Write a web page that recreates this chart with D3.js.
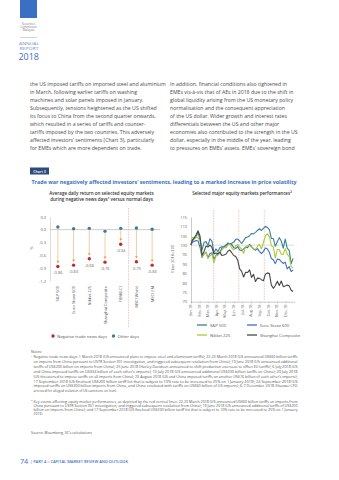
<!DOCTYPE html>
<html>
<head>
<meta charset="utf-8">
<script src="https://cdn.jsdelivr.net/npm/d3@7"></script>
<style>
  html, body { margin: 0; padding: 0; background: #fff; }
  svg { display: block; font-family: 'Open Sans', sans-serif; }
</style>
</head>
<body>
<div id="container"></div>
<script>
// left chart: average daily return (%)
const categories = ['S&P 500', 'Euro Stoxx 600', 'Nikkei 225', 'Shanghai Composite', 'FBMKLCI', 'MSCI World', 'MSCI EM'];
const negativeDays = [-0.86, -0.83, -0.68, -0.76, -0.34, -0.75, -0.83];
const otherDays = [0.06, 0.02, 0.03, -0.04, 0.03, 0.04, 0.01];
const returnTicks = [0.3, 0, -0.3, -0.6, -0.9, -1.2];

// right chart: weekly index levels, 1 Jan 2018 = 100
const weekDates = [
  '2018-01-01', '2018-01-05', '2018-01-12', '2018-01-19', '2018-01-26',
  '2018-02-02', '2018-02-09', '2018-02-16', '2018-02-23',
  '2018-03-02', '2018-03-09', '2018-03-16', '2018-03-23', '2018-03-30',
  '2018-04-06', '2018-04-13', '2018-04-20', '2018-04-27',
  '2018-05-04', '2018-05-11', '2018-05-18', '2018-05-25',
  '2018-06-01', '2018-06-08', '2018-06-15', '2018-06-22', '2018-06-29',
  '2018-07-06', '2018-07-13', '2018-07-20', '2018-07-27',
  '2018-08-03', '2018-08-10', '2018-08-17', '2018-08-24', '2018-08-31',
  '2018-09-07', '2018-09-14', '2018-09-21', '2018-09-28',
  '2018-10-05', '2018-10-12', '2018-10-19', '2018-10-26',
  '2018-11-02', '2018-11-09', '2018-11-16', '2018-11-23', '2018-11-30',
  '2018-12-07', '2018-12-14', '2018-12-21', '2018-12-28'
];
const sp500 = [
  100, 101.8, 103.4, 104.3, 106.8,
  102.5, 97.5, 101.4, 101.9,
  99.8, 103.4, 102.1, 96.0, 98.0,
  96.6, 98.6, 99.1, 99.1,
  98.8, 101.2, 100.7, 101.0,
  101.5, 103.1, 103.2, 102.2, 100.9,
  102.4, 104.0, 104.3, 105.0,
  106.2, 106.0, 106.8, 107.8, 108.7,
  107.8, 108.9, 110.0, 109.4,
  108.3, 103.6, 103.5, 99.4,
  101.8, 104.0, 102.2, 98.4, 103.2,
  98.4, 97.2, 90.3, 93.0
];
const euroStoxx = [
  100, 101.5, 102.0, 102.5, 102.2,
  98.8, 93.5, 95.3, 96.3,
  93.2, 95.6, 96.0, 92.6, 94.5,
  95.3, 96.3, 98.3, 99.1,
  100.1, 100.8, 100.8, 100.3,
  98.7, 98.2, 99.3, 97.4, 97.1,
  98.0, 98.9, 98.7, 100.4,
  99.3, 98.0, 97.3, 98.2, 96.6,
  95.5, 96.7, 98.5, 98.0,
  96.2, 92.9, 92.3, 90.2,
  92.6, 92.4, 91.3, 90.3, 91.0,
  87.4, 88.6, 86.0, 86.9
];
const nikkei = [
  100, 104.2, 103.9, 104.6, 103.8,
  102.2, 93.9, 95.4, 96.2,
  93.0, 94.3, 95.2, 90.6, 94.2,
  94.7, 95.7, 97.4, 98.7,
  98.7, 100.0, 100.7, 98.6,
  97.4, 99.7, 100.4, 98.9, 98.0,
  95.7, 99.3, 99.7, 99.8,
  98.9, 97.9, 97.8, 99.3, 100.4,
  98.0, 101.4, 104.9, 106.0,
  104.5, 99.7, 99.0, 93.1,
  97.7, 97.7, 95.2, 95.1, 98.2,
  95.2, 93.9, 88.6, 87.9
];
const shanghai = [
  100, 102.5, 103.7, 105.5, 107.6,
  104.7, 94.6, 96.7, 99.5,
  99.0, 100.0, 98.8, 95.3, 95.8,
  95.5, 96.3, 94.5, 94.8,
  95.2, 96.8, 97.4, 96.0,
  94.5, 94.0, 92.0, 87.4, 86.1,
  83.1, 85.6, 85.5, 86.9,
  82.9, 84.5, 80.7, 82.5, 82.4,
  81.7, 81.1, 84.6, 85.3,
  84.9, 78.8, 77.1, 78.6,
  80.9, 78.6, 81.0, 78.0, 78.3,
  78.8, 78.4, 76.1, 75.4
];
const seriesNames = ['S&P 500', 'Euro Stoxx 600', 'Nikkei 225', 'Shanghai Composite'];
const seriesColors = ['#3b7f97', '#3d6fc2', '#aacd33', '#474747'];
const eventDates = ['2018-03-22', '2018-06-19', '2018-09-17'];
const levelTicks = [70, 75, 80, 85, 90, 95, 100, 105, 110, 115];

const leftColumn = [
  'the US imposed tariffs on imported steel and aluminium',
  'in March, following earlier tariffs on washing',
  'machines and solar panels imposed in January.',
  'Subsequently, tensions heightened as the US shifted',
  'its focus to China from the second quarter onwards,',
  'which resulted in a series of tariffs and counter-',
  'tariffs imposed by the two countries. This adversely',
  'affected investors\u2019 sentiments (Chart 3), particularly',
  'for EMEs which are more dependent on trade.'
];
const rightColumn = [
  'In addition, financial conditions also tightened in',
  'EMEs vis-\u00e0-vis that of AEs in 2018 due to the shift in',
  'global liquidity arising from the US monetary policy',
  'normalisation and the consequent appreciation',
  'of the US dollar. Wider growth and interest rates',
  'differentials between the US and other major',
  'economies also contributed to the strength in the US',
  'dollar, especially in the middle of the year, leading',
  'to pressures on EMEs\u2019 assets. EMEs\u2019 sovereign bond'
];
const note1 = [
  'Negative trade news days: 1 March 2018 (US announced plans to impose steel and aluminium tariffs); 22-23 March 2018 (US announced US$60 billion tariffs',
  'on imports from China pursuant to USTR Section 301 investigation, and triggered subsequent retaliation from China); 19 June 2018 (US announced additional',
  'tariffs of US$200 billion on imports from China); 25 June 2018 (Harley-Davidson announced to shift production overseas to offset EU tariffs); 6 July 2018 (US',
  'and China imposed tariffs on US$34 billion of each other\u2019s imports); 10 July 2018 (US announced additional US$200 billion tariffs on China); 20 July 2018',
  '(US threatened to impose tariffs on all imports from China); 23 August 2018 (US and China imposed tariffs on another US$16 billion of each other\u2019s imports);',
  '17 September 2018 (US finalised US$200 billion tariff list that is subject to 10% rate to be increased to 25% on 1 January 2019); 24 September 2018 (US',
  'imposed tariffs on US$200 billion imports from China, and China retaliated with tariffs on US$60 billion of US imports); 6-7 December 2018 (Huawei CFO',
  'arrested for alleged violation of US sanctions on Iran).'
];
const note2 = [
  'Key events affecting equity market performances, as depicted by the red vertical lines: 22-23 March 2018 (US announced US$60 billion tariffs on imports from',
  'China pursuant to USTR Section 301 investigation, and triggered subsequent retaliation from China); 19 June 2018 (US announced additional tariffs of US$200',
  'billion on imports from China); and 17 September 2018 (US finalised US$200 billion tariff list that is subject to 10% rate to be increased to 25% on 1 January',
  '2019).'
];

const blue = '#3b6fc4';
const svg = d3.select('#container').append('svg')
  .attr('width', 339)
  .attr('height', 480);

main();

function main() {
  drawHeader();
  drawBody();
  drawReturns();
  drawPerformance();
  drawNotes();
}

function text(x, y, str, size, fill) {
  return svg.append('text')
    .attr('x', x)
    .attr('y', y)
    .attr('font-size', size)
    .attr('fill', fill)
    .text(str);
}

function drawHeader() {
  svg.append('rect')
    .attr('x', 20).attr('y', 0)
    .attr('width', 17).attr('height', 18)
    .attr('fill', blue);
  ['Securities', 'Commission', 'Malaysia'].forEach((s, i) => {
    text(28.5, 24.5 + i * 3.4, s, 2.9, '#777').attr('text-anchor', 'middle');
  });
  svg.append('line')
    .attr('x1', 20).attr('x2', 37)
    .attr('y1', 37.5).attr('y2', 37.5)
    .attr('stroke', '#aaa').attr('stroke-width', 0.5);
  text(19, 45, 'ANNUAL', 4, '#6b8fd0').attr('textLength', 20).attr('lengthAdjust', 'spacingAndGlyphs');
  text(19.5, 50, 'REPORT', 4, '#6b8fd0').attr('textLength', 19).attr('lengthAdjust', 'spacingAndGlyphs');
  text(18.5, 59.5, '2018', 8.5, blue).attr('textLength', 20.5).attr('lengthAdjust', 'spacingAndGlyphs');

  text(20, 464, '74', 7.2, blue);
  text(30, 462.5, '| PART 4 :: CAPITAL MARKET REVIEW AND OUTLOOK', 3.3, blue)
    .attr('font-weight', 600)
    .attr('textLength', 98).attr('lengthAdjust', 'spacingAndGlyphs');
}

function drawBody() {
  leftColumn.forEach((s, i) => text(30, 85.5 + i * 8, s, 5.2, '#4a4a4a'));
  rightColumn.forEach((s, i) => text(170, 85.5 + i * 8, s, 5.2, '#4a4a4a'));

  svg.append('rect')
    .attr('x', 30).attr('y', 167.5)
    .attr('width', 19).attr('height', 7)
    .attr('fill', '#2d4c7e');
  text(39.5, 172.5, 'Chart 3', 3.6, '#fff')
    .attr('text-anchor', 'middle').attr('font-weight', 600);
  text(31.5, 183.5, 'Trade war negatively affected investors\u2019 sentiments, leading to a marked increase in price volatility', 5, blue)
    .attr('font-weight', 700)
    .attr('textLength', 265).attr('lengthAdjust', 'spacingAndGlyphs');

  text(101.5, 195, 'Average daily return on selected equity markets', 4.5, '#333')
    .attr('text-anchor', 'middle').attr('font-weight', 600);
  text(101.5, 201, 'during negative news days\u00b9 versus normal days', 4.5, '#333')
    .attr('text-anchor', 'middle').attr('font-weight', 600);
  text(242, 195, 'Selected major equity markets performances\u00b2', 4.5, '#333')
    .attr('text-anchor', 'middle').attr('font-weight', 600);
}

function drawReturns() {
  const x = d3.scaleBand().domain(categories).range([50, 160]);
  const y = d3.scaleLinear().domain([-1.2, 0.3]).range([281, 216.8]);
  const cx = (c) => x(c) + x.bandwidth() / 2;

  const axis = svg.append('g')
    .attr('transform', 'translate(50,0)')
    .call(d3.axisLeft(y).tickValues(returnTicks).tickSize(0).tickPadding(4)
      .tickFormat((d) => d.toFixed(1)));
  axis.select('.domain').attr('stroke', '#bbb').attr('stroke-width', 0.5);
  axis.selectAll('text').attr('font-size', 4).attr('fill', '#666').attr('font-family', 'Open Sans');

  text(0, 0, '%', 4, '#666')
    .attr('transform', 'translate(33,248) rotate(-90)')
    .attr('text-anchor', 'middle');

  svg.append('line')
    .attr('x1', 50).attr('x2', 160)
    .attr('y1', y(0)).attr('y2', y(0))
    .attr('stroke', '#999').attr('stroke-width', 0.5);

  // separator between local and world indices
  const sep = x('MSCI World') - (x.step() - x.bandwidth()) / 2;
  svg.append('line')
    .attr('x1', sep).attr('x2', sep)
    .attr('y1', 208).attr('y2', 328)
    .attr('stroke', '#e7a3a3').attr('stroke-width', 0.6)
    .attr('stroke-dasharray', '1.6,1');

  const g = svg.append('g');
  categories.forEach((c, i) => {
    const top = y(otherDays[i]) + 2;
    const tip = y(negativeDays[i]) - 3.2;
    g.append('line')
      .attr('x1', cx(c)).attr('x2', cx(c))
      .attr('y1', top).attr('y2', tip - 1.5)
      .attr('stroke', '#f6cda3').attr('stroke-width', 1);
    g.append('path')
      .attr('d', `M${cx(c) - 1.4},${tip - 2.4}L${cx(c) + 1.4},${tip - 2.4}L${cx(c)},${tip}Z`)
      .attr('fill', '#e8993c');
    g.append('circle')
      .attr('cx', cx(c)).attr('cy', y(otherDays[i]))
      .attr('r', 1.7).attr('fill', '#3b7f8f');
    g.append('circle')
      .attr('cx', cx(c)).attr('cy', y(negativeDays[i]))
      .attr('r', 1.7).attr('fill', '#c3282f');
    text(cx(c), y(negativeDays[i]) + 8, negativeDays[i].toFixed(2), 4, '#666')
      .attr('text-anchor', 'middle');
    text(0, 0, c, 4, '#555')
      .attr('transform', `translate(${cx(c) + 1.5},286) rotate(-90)`)
      .attr('text-anchor', 'end');
  });

  // legend
  svg.append('circle').attr('cx', 53).attr('cy', 336).attr('r', 1.7).attr('fill', '#c3282f');
  text(57, 337.5, 'Negative trade news days', 4.2, '#555');
  svg.append('circle').attr('cx', 113.5).attr('cy', 336).attr('r', 1.7).attr('fill', '#3b7f8f');
  text(117.5, 337.5, 'Other days', 4.2, '#555');
}

function drawPerformance() {
  const parse = d3.timeParse('%Y-%m-%d');
  const dates = weekDates.map(parse);
  const x = d3.scaleTime()
    .domain([new Date(2018, 0, 1), new Date(2018, 11, 31)])
    .range([191, 294]);
  const y = d3.scaleLinear().domain([70, 115]).range([301.7, 216.9]);

  const ya = svg.append('g')
    .attr('transform', 'translate(191,0)')
    .call(d3.axisLeft(y).tickValues(levelTicks).tickSize(0).tickPadding(4));
  ya.select('.domain').attr('stroke', '#999').attr('stroke-width', 0.5);
  ya.selectAll('text').attr('font-size', 4).attr('fill', '#666').attr('font-family', 'Open Sans');

  text(0, 0, '1 Jan 2018=100', 4, '#666')
    .attr('transform', 'translate(174,259) rotate(-90)')
    .attr('text-anchor', 'middle');

  const months = d3.timeMonth.range(new Date(2018, 0, 1), new Date(2018, 11, 31));
  const xa = svg.append('g')
    .attr('transform', `translate(0,${y(70)})`)
    .call(d3.axisBottom(x).tickValues(months).tickSize(1.5).tickFormat(() => ''));
  xa.select('.domain').attr('stroke', '#999').attr('stroke-width', 0.5);
  xa.selectAll('line').attr('stroke', '#999').attr('stroke-width', 0.5);
  months.forEach((m) => {
    text(0, 0, d3.timeFormat('%b-%y')(m), 3.8, '#666')
      .attr('transform', `translate(${x(m) + 1.4},304.5) rotate(-90)`)
      .attr('text-anchor', 'end');
  });

  svg.append('line')
    .attr('x1', 191).attr('x2', 294)
    .attr('y1', y(100)).attr('y2', y(100))
    .attr('stroke', '#bbb').attr('stroke-width', 0.5);

  eventDates.map(parse).forEach((d) => {
    svg.append('line')
      .attr('x1', x(d)).attr('x2', x(d))
      .attr('y1', 210).attr('y2', y(70))
      .attr('stroke', '#e7a3a3').attr('stroke-width', 0.6)
      .attr('stroke-dasharray', '1.6,1');
  });

  const line = d3.line()
    .x((d, i) => x(dates[i]))
    .y((d) => y(d));
  [sp500, euroStoxx, nikkei, shanghai].forEach((s, i) => {
    svg.append('path')
      .datum(s)
      .attr('d', line)
      .attr('fill', 'none')
      .attr('stroke', seriesColors[i])
      .attr('stroke-width', 1.1)
      .attr('stroke-linejoin', 'round');
  });

  // legend
  seriesNames.forEach((name, i) => {
    const lx = i % 2 === 0 ? 197 : 247;
    const ly = i < 2 ? 325 : 335;
    svg.append('line')
      .attr('x1', lx).attr('x2', lx + 10)
      .attr('y1', ly).attr('y2', ly)
      .attr('stroke', seriesColors[i]).attr('stroke-width', 1.3);
    text(lx + 13, ly + 1.5, name, 4.2, '#555');
  });
}

function drawNotes() {
  text(31, 352.5, 'Notes:', 3.6, '#555');
  text(31, 356.5, '1', 2.4, '#555');
  note1.forEach((s, i) => {
    const t = text(33.5, 358 + i * 4.9, s, 3.35, '#555');
    if (i < note1.length - 1) t.attr('textLength', 264).attr('lengthAdjust', 'spacingAndGlyphs');
  });
  text(31, 401, '2', 2.4, '#555');
  note2.forEach((s, i) => {
    const t = text(33.5, 402.5 + i * 4.3, s, 3.35, '#555');
    if (i < note2.length - 1) t.attr('textLength', 264).attr('lengthAdjust', 'spacingAndGlyphs');
  });
  text(31, 433.5, 'Source: Bloomberg, SC\u2019s calculations', 3.6, '#555');
}
</script>
</body>
</html>
